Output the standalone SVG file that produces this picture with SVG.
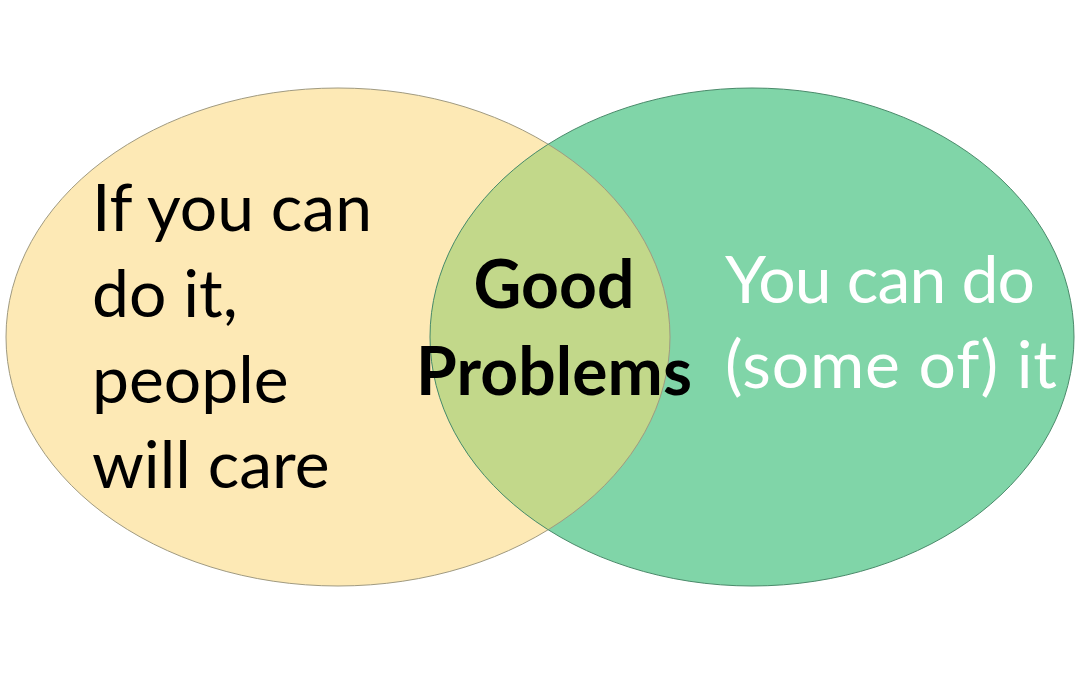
<svg xmlns="http://www.w3.org/2000/svg" width="1080" height="675" viewBox="0 0 1080 675">
<style>
.t{font-family:Lato,"Open Sans","Liberation Sans",sans-serif;font-size:66px}
.l{fill:#000}
.r{fill:#fff}
.b{font-weight:bold;text-anchor:middle;fill:#000}
</style>
<defs>
<clipPath id="clipL"><ellipse cx="338" cy="337" rx="332" ry="249"/></clipPath>
</defs>
<rect width="1080" height="675" fill="#fff"/>
<g id="left">
<ellipse cx="338" cy="337" rx="332" ry="249" fill="#fde9b5"/>
</g>
<g id="right">
<ellipse cx="752" cy="337" rx="322" ry="249" fill="#80d5a8"/>
</g>
<g id="overlap">
<ellipse cx="752" cy="337" rx="322" ry="249" fill="#c2d88a" clip-path="url(#clipL)"/>
</g>
<g id="borders" fill="none" stroke-width="1">
<ellipse cx="338" cy="337" rx="332" ry="249" stroke="#a09a80"/>
<ellipse cx="752" cy="337" rx="322" ry="249" stroke="#4a8a6a"/>
</g>
<g id="left-text" class="t l">
<text x="92" y="231">If you can</text>
<text x="92" y="317">do it,</text>
<text x="92" y="403">people</text>
<text x="92" y="488">will care</text>
</g>
<g id="center-text" class="t b">
<text x="554" y="308">Good</text>
<text x="554" y="395" textLength="276" lengthAdjust="spacing">Problems</text>
</g>
<g id="right-text" class="t r">
<text x="725" y="303" textLength="310" lengthAdjust="spacing">You can do</text>
<text x="725" y="388" textLength="332" lengthAdjust="spacing">(some of) it</text>
</g>
</svg>
